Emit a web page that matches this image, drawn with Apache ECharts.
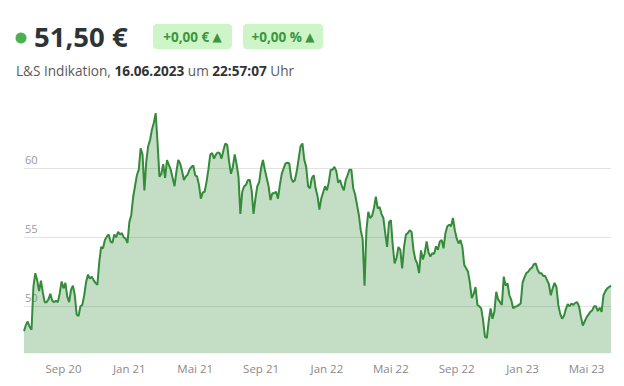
<!DOCTYPE html>
<html><head><meta charset="utf-8">
<script src="https://cdn.jsdelivr.net/npm/echarts@6/dist/echarts.min.js"></script>
<style>html,body{margin:0;padding:0;background:#fff}#c{width:624px;height:386px}</style>
</head><body><div id="c"></div>
<script>
// Friday closes
const fri2020 = ['2020-06-19','2020-06-26','2020-07-03','2020-07-10','2020-07-17','2020-07-24','2020-07-31','2020-08-07','2020-08-14','2020-08-21','2020-08-28','2020-09-04','2020-09-11','2020-09-18','2020-09-25','2020-10-02','2020-10-09','2020-10-16','2020-10-23','2020-10-30','2020-11-06','2020-11-13','2020-11-20','2020-11-27','2020-12-04','2020-12-11','2020-12-18','2020-12-25'];
const fri2021 = ['2021-01-01','2021-01-08','2021-01-15','2021-01-22','2021-01-29','2021-02-05','2021-02-12','2021-02-19','2021-02-26','2021-03-05','2021-03-12','2021-03-19','2021-03-26','2021-04-02','2021-04-09','2021-04-16','2021-04-23','2021-04-30','2021-05-07','2021-05-14','2021-05-21','2021-05-28','2021-06-04','2021-06-11','2021-06-18','2021-06-25','2021-07-02','2021-07-09','2021-07-16','2021-07-23','2021-07-30','2021-08-06','2021-08-13','2021-08-20','2021-08-27','2021-09-03','2021-09-10','2021-09-17','2021-09-24','2021-10-01','2021-10-08','2021-10-15','2021-10-22','2021-10-29','2021-11-05','2021-11-12','2021-11-19','2021-11-26','2021-12-03','2021-12-10','2021-12-17','2021-12-24','2021-12-31'];
const fri2022 = ['2022-01-07','2022-01-14','2022-01-21','2022-01-28','2022-02-04','2022-02-11','2022-02-18','2022-02-25','2022-03-04','2022-03-11','2022-03-18','2022-03-25','2022-04-01','2022-04-08','2022-04-15','2022-04-22','2022-04-29','2022-05-06','2022-05-13','2022-05-20','2022-05-27','2022-06-03','2022-06-10','2022-06-17','2022-06-24','2022-07-01','2022-07-08','2022-07-15','2022-07-22','2022-07-29','2022-08-05','2022-08-12','2022-08-19','2022-08-26','2022-09-02','2022-09-09','2022-09-16','2022-09-23','2022-09-30','2022-10-07','2022-10-14','2022-10-21','2022-10-28','2022-11-04','2022-11-11','2022-11-18','2022-11-25','2022-12-02','2022-12-09','2022-12-16','2022-12-23','2022-12-30'];
const fri2023 = ['2023-01-06','2023-01-13','2023-01-20','2023-01-27','2023-02-03','2023-02-10','2023-02-17','2023-02-24','2023-03-03','2023-03-10','2023-03-17','2023-03-24','2023-03-31','2023-04-07','2023-04-14','2023-04-21','2023-04-28','2023-05-05','2023-05-12','2023-05-19','2023-05-26','2023-06-02','2023-06-09','2023-06-16'];
const friPrices2020 = [48.2,48.9,48.3,52.4,51.1,51.0,50.3,50.9,50.3,50.3,51.8,51.7,50.3,51.5,49.4,50.0,50.8,52.3,52.15,51.7,53.2,54.2,55.05,54.7,55.2,55.4,55.3,54.9];
const friPrices2021 = [56.1,57.9,59.5,61.45,58.4,61.6,62.8,64.0,59.4,60.3,60.6,59.9,58.7,60.6,59.8,59.4,59.9,60.2,59.4,57.8,58.3,59.9,61.1,61.0,61.1,61.3,61.7,59.6,61.0,59.4,58.3,58.8,59.15,56.7,58.7,60.0,59.9,58.7,58.2,58.3,58.8,60.0,60.4,59.3,59.15,60.7,61.8,60.1,58.55,59.5,58.0,57.8,58.7];
const friPrices2022 = [59.0,59.9,59.8,59.15,58.4,59.5,59.9,58.1,56.6,54.85,55.5,56.4,57.1,57.1,56.7,55.3,56.1,54.4,53.5,54.1,54.3,55.3,55.4,53.4,52.4,53.4,54.7,53.6,53.8,54.1,54.8,55.3,55.9,56.4,54.9,54.8,53.0,52.5,50.6,51.4,50.0,49.0,47.7,49.85,49.6,50.5,50.1,51.5,50.8,49.85,50.0,50.2];
const friPrices2023 = [52.1,52.5,52.8,53.1,52.4,52.2,51.9,50.8,51.7,50.1,49.1,49.8,50.0,50.1,50.3,49.25,48.9,49.4,49.7,50.0,49.9,50.8,51.3,51.5];

// Tuesday closes (the Tuesday after each Friday above)
const tue2020 = ['2020-06-23','2020-06-30','2020-07-07','2020-07-14','2020-07-21','2020-07-28','2020-08-04','2020-08-11','2020-08-18','2020-08-25','2020-09-01','2020-09-08','2020-09-15','2020-09-22','2020-09-29','2020-10-06','2020-10-13','2020-10-20','2020-10-27','2020-11-03','2020-11-10','2020-11-17','2020-11-24','2020-12-01','2020-12-08','2020-12-15','2020-12-22','2020-12-29'];
const tue2021 = ['2021-01-05','2021-01-12','2021-01-19','2021-01-26','2021-02-02','2021-02-09','2021-02-16','2021-02-23','2021-03-02','2021-03-09','2021-03-16','2021-03-23','2021-03-30','2021-04-06','2021-04-13','2021-04-20','2021-04-27','2021-05-04','2021-05-11','2021-05-18','2021-05-25','2021-06-01','2021-06-08','2021-06-15','2021-06-22','2021-06-29','2021-07-06','2021-07-13','2021-07-20','2021-07-27','2021-08-03','2021-08-10','2021-08-17','2021-08-24','2021-08-31','2021-09-07','2021-09-14','2021-09-21','2021-09-28','2021-10-05','2021-10-12','2021-10-19','2021-10-26','2021-11-02','2021-11-09','2021-11-16','2021-11-23','2021-11-30','2021-12-07','2021-12-14','2021-12-21','2021-12-28','2022-01-04'];
const tue2022 = ['2022-01-11','2022-01-18','2022-01-25','2022-02-01','2022-02-08','2022-02-15','2022-02-22','2022-03-01','2022-03-08','2022-03-15','2022-03-22','2022-03-29','2022-04-05','2022-04-12','2022-04-19','2022-04-26','2022-05-03','2022-05-10','2022-05-17','2022-05-24','2022-05-31','2022-06-07','2022-06-14','2022-06-21','2022-06-28','2022-07-05','2022-07-12','2022-07-19','2022-07-26','2022-08-02','2022-08-09','2022-08-16','2022-08-23','2022-08-30','2022-09-06','2022-09-13','2022-09-20','2022-09-27','2022-10-04','2022-10-11','2022-10-18','2022-10-25','2022-11-01','2022-11-08','2022-11-15','2022-11-22','2022-11-29','2022-12-06','2022-12-13','2022-12-20','2022-12-27','2023-01-03'];
const tue2023 = ['2023-01-10','2023-01-17','2023-01-24','2023-01-31','2023-02-07','2023-02-14','2023-02-21','2023-02-28','2023-03-07','2023-03-14','2023-03-21','2023-03-28','2023-04-04','2023-04-11','2023-04-18','2023-04-25','2023-05-02','2023-05-09','2023-05-16','2023-05-23','2023-05-30','2023-06-06','2023-06-13'];
const tuePrices2020 = [48.65,48.5,51.4,51.9,51.85,50.3,50.5,50.4,50.4,50.95,51.3,50.7,51.2,50.8,49.3,50.1,51.75,52.0,51.9,51.55,54.3,54.8,55.2,54.6,55.0,55.2,55.0,54.6];
const tuePrices2021 = [56.6,58.7,59.9,61.0,60.5,62.05,63.3,61.8,59.6,59.3,60.25,59.3,59.75,60.35,59.15,59.55,60.1,59.5,58.8,58.25,59.0,61.0,60.7,61.15,60.7,61.8,60.5,60.1,60.3,56.7,58.7,59.15,58.4,57.8,59.0,60.6,59.3,57.7,58.2,57.8,59.6,60.35,60.35,59.0,59.8,61.6,60.6,58.7,59.3,58.55,57.0,58.25,58.4];
const tuePrices2022 = [59.9,60.1,58.95,58.7,59.15,59.9,58.55,57.35,55.5,51.5,56.85,56.55,57.95,57.2,56.4,54.3,56.25,53.1,54.3,52.75,55.2,55.5,54.1,53.1,54.05,53.85,53.9,53.85,54.35,54.7,54.2,55.8,55.8,55.5,54.55,54.3,52.75,51.7,50.9,50.1,49.85,47.8,48.9,49.1,51.05,50.3,52.15,51.65,50.45,49.97,50.1,51.7];
const tuePrices2023 = [52.4,52.7,53.05,52.65,52.4,52.2,51.6,51.3,51.4,49.45,49.3,50.15,50.2,50.25,50.0,48.6,49.2,49.6,50.0,49.65,49.6,51.1,51.4];

const monthNames = ['Jan','Feb','Mär','Apr','Mai','Jun','Jul','Aug','Sep','Okt','Nov','Dez'];
const labelMonths = [1,5,9];
const yTickValues = [50,55,60];

const friDates = fri2020.concat(fri2021, fri2022, fri2023);
const friPrices = friPrices2020.concat(friPrices2021, friPrices2022, friPrices2023);
const tueDates = tue2020.concat(tue2021, tue2022, tue2023);
const tuePrices = tuePrices2020.concat(tuePrices2021, tuePrices2022, tuePrices2023);
const dates = [], prices = [];
for (let k = 0; k < friDates.length; k++) {
  dates.push(friDates[k]); prices.push(friPrices[k]);
  if (k < tueDates.length) { dates.push(tueDates[k]); prices.push(tuePrices[k]); }
}

const FONT = "'Open Sans', 'DejaVu Sans', sans-serif";
const chart = echarts.init(document.getElementById('c'), null, {renderer:'svg'});
chart.setOption({
  animation:false,
  grid:{left:24, right:13, top:99.3, bottom:10.7},
  xAxis:{
    type:'category', data:dates, boundaryGap:false, offset:-22,
    axisLine:{show:false}, axisTick:{show:false}, splitLine:{show:false},
    axisLabel:{
      interval:function(i, v){ if (i === 0) return false; const m = +v.slice(5,7); return labelMonths.indexOf(m) >= 0 && dates[i-1].slice(5,7) !== v.slice(5,7); },
      formatter:function(v){ return monthNames[+v.slice(5,7)-1] + ' ' + v.slice(2,4); },
      color:'#8a8a8a', fontSize:11.5, fontFamily:FONT, margin:9
    }
  },
  yAxis:{
    type:'value', min:45, max:65, interval:5,
    axisLine:{show:false}, axisTick:{show:false},
    axisLabel:{
      inside:true, verticalAlign:'bottom', color:'#9a9a9a', fontSize:11, fontFamily:FONT, margin:1,
      padding:[0,0,3,0],
      formatter:function(v){ return yTickValues.indexOf(v) >= 0 ? String(v) : ''; }
    },
    splitLine:{show:true, showMinLine:false, showMaxLine:false, lineStyle:{color:'#e2e2e2', width:1}}
  },
  series:[{
    type:'line', data:prices, symbol:'none', smooth:false,
    lineStyle:{color:'#348b3a', width:2},
    areaStyle:{color:'#3a8f3f', opacity:0.3, origin:46.6}
  }],
  graphic:[
    {type:'circle', shape:{cx:21, cy:38, r:5.5}, style:{fill:'#4caf50'}},
    {type:'text', x:34, y:36, style:{text:'51,50 €', font:'bold 27.5px ' + FONT, fill:'#2d3436', verticalAlign:'middle'}},
    {type:'rect', shape:{x:153, y:24, width:79, height:25, r:4}, style:{fill:'#cdf5c7'}},
    {type:'text', x:192.5, y:36.5, style:{text:'{a|+0,00 €} {t|▲}', align:'center', verticalAlign:'middle',
      rich:{a:{font:'bold 13.5px ' + FONT, fill:'#3b963d'}, t:{font:'12px ' + FONT, fill:'#3b963d'}}}},
    {type:'rect', shape:{x:243, y:24, width:80, height:25, r:4}, style:{fill:'#cdf5c7'}},
    {type:'text', x:283, y:36.5, style:{text:'{a|+0,00 %} {t|▲}', align:'center', verticalAlign:'middle',
      rich:{a:{font:'bold 13.5px ' + FONT, fill:'#3b963d'}, t:{font:'12px ' + FONT, fill:'#3b963d'}}}},
    {type:'text', x:16, y:70, style:{text:'{n|L&S Indikation, }{b|16.06.2023}{n| um }{b|22:57:07}{n| Uhr}', verticalAlign:'middle',
      rich:{n:{font:'13.6px ' + FONT, fill:'#5a5a5a'}, b:{font:'bold 13.6px ' + FONT, fill:'#333'}}}}
  ]
});
</script></body></html>
